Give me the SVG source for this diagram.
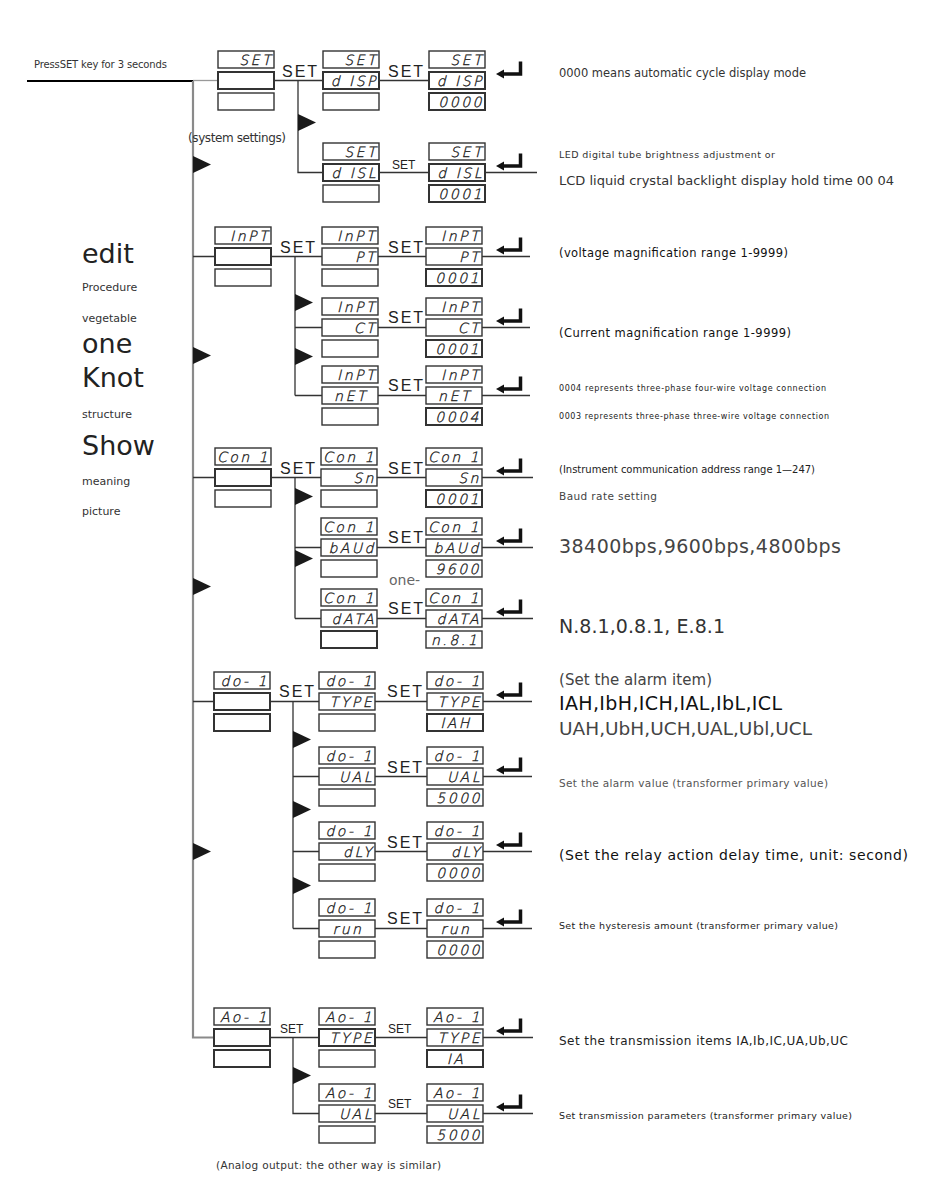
<svg xmlns="http://www.w3.org/2000/svg" width="926" height="1184" viewBox="0 0 926 1184">
<style>
.box{fill:#fff;stroke:#333;stroke-width:1.4}
.thk{stroke-width:2}
.seg{font-family:"DejaVu Sans ExtraLight","DejaVu Sans Light","DejaVu Sans",sans-serif;font-weight:200;font-style:italic;font-size:14px;fill:#222;stroke:#222;stroke-width:0.35;letter-spacing:2.5px;text-anchor:end}
.segc{text-anchor:middle}
.c{stroke:#333;stroke-width:1.3;fill:none}
.trunk{stroke:#8a8a8a;stroke-width:2.2;fill:none}
.set{font-family:"Liberation Sans",Arial,sans-serif;font-size:16px;letter-spacing:2px;fill:#222}
.sets{font-size:12px;letter-spacing:0}
.t{font-family:"DejaVu Sans",sans-serif;fill:#333}
.big{font-size:27px;fill:#222}
.sm{font-size:11px;fill:#333}
</style>
<defs>
<polygon id="tri" points="0,0 18,8.5 0,17" fill="#1a1a1a"/>
<g id="ent"><path d="M24.5,0 V12.5 H7" stroke="#111" stroke-width="3.5" fill="none"/><polygon points="0,12.5 8,8 8,17" fill="#111"/></g>
</defs>
<rect width="926" height="1184" fill="#fff"/>

<g id="connectors">
<path d="M27,81 H193" stroke="#000" stroke-width="2.2" fill="none"/>
<path class="trunk" d="M193,81 V1037.5 H214"/>
<path d="M193,80.5 H218" stroke="#999" stroke-width="1.3" fill="none"/>
<path class="c" d="M274,80.5 H323 M298,80.5 V172.5 H323 M379,80.5 H429 M379,172.5 H429 M485,172.5 H537"/>
<path class="c" d="M193,256.5 H215 M271,256.5 H322 M295,256.5 V395.5 M295,327.5 H322 M295,395.5 H322 M378,256.5 H426 M378,327.5 H426 M378,395.5 H426 M482,256.5 H530 M482,327.5 H530 M482,395.5 H530"/>
<path class="c" d="M193,477.5 H215 M271,477.5 H321 M295,477.5 V618.5 M295,547.5 H321 M295,618.5 H321 M377,477.5 H426 M377,547.5 H426 M377,618.5 H426 M482,477.5 H533 M482,547.5 H533 M482,618.5 H533"/>
<path class="c" d="M193,701.5 H214 M270,701.5 H319 M293,701.5 V928.5 M293,776.5 H319 M293,851.5 H319 M293,928.5 H319 M375,701.5 H427 M375,776.5 H427 M375,851.5 H427 M375,928.5 H427 M483,701.5 H532 M483,776.5 H532 M483,851.5 H532 M483,928.5 H532"/>
<path class="c" d="M270,1037.5 H319 M293,1037.5 V1113.5 H319 M375,1037.5 H427 M375,1113.5 H427 M483,1037.5 H533 M483,1113.5 H533"/>
<use href="#tri" x="193" y="156"/>
<use href="#tri" x="193" y="347"/>
<use href="#tri" x="193" y="578"/>
<use href="#tri" x="193" y="843"/>
<use href="#tri" x="298" y="114"/>
<use href="#tri" x="295" y="294"/>
<use href="#tri" x="295" y="348"/>
<use href="#tri" x="295" y="488"/>
<use href="#tri" x="295" y="550"/>
<use href="#tri" x="293" y="731"/>
<use href="#tri" x="293" y="801"/>
<use href="#tri" x="293" y="877"/>
<use href="#tri" x="293" y="1067"/>
<use href="#ent" x="496" y="61.5"/>
<use href="#ent" x="496" y="153.5"/>
<use href="#ent" x="496" y="237.5"/>
<use href="#ent" x="496" y="308.5"/>
<use href="#ent" x="496" y="376.5"/>
<use href="#ent" x="496" y="458.5"/>
<use href="#ent" x="496" y="528.5"/>
<use href="#ent" x="496" y="599.5"/>
<use href="#ent" x="496" y="682.5"/>
<use href="#ent" x="496" y="757.5"/>
<use href="#ent" x="496" y="832.5"/>
<use href="#ent" x="496" y="909.5"/>
<use href="#ent" x="496" y="1018.5"/>
<use href="#ent" x="496" y="1094.5"/>
<text class="set" x="282" y="77">SET</text>
<text class="set" x="388" y="77">SET</text>
<text class="set sets" x="392" y="169">SET</text>
<text class="set" x="280" y="253">SET</text>
<text class="set" x="388" y="253">SET</text>
<text class="set" x="388" y="323">SET</text>
<text class="set" x="388" y="391">SET</text>
<text class="set" x="280" y="474">SET</text>
<text class="set" x="388" y="474">SET</text>
<text class="set" x="388" y="543">SET</text>
<text class="set" x="388" y="614">SET</text>
<text class="set" x="279" y="697">SET</text>
<text class="set" x="387" y="697">SET</text>
<text class="set" x="387" y="773">SET</text>
<text class="set" x="387" y="848">SET</text>
<text class="set" x="387" y="924">SET</text>
<text class="set sets" x="280" y="1033">SET</text>
<text class="set sets" x="388" y="1033">SET</text>
<text class="set sets" x="388" y="1108">SET</text>
<text class="t" x="389" y="585" font-size="14" style="fill:#666">one-</text>
</g>

<g id="n-set"><rect class="box" x="218" y="51" width="56" height="17"/><rect class="box thk" x="218" y="72" width="56" height="17"/><rect class="box" x="218" y="93" width="56" height="17"/><text class="seg" x="273" y="65">SET</text></g>
<g id="n-disp"><rect class="box" x="323" y="51" width="56" height="17"/><rect class="box thk" x="323" y="72" width="56" height="17"/><rect class="box" x="323" y="93" width="56" height="17"/><text class="seg" x="378" y="65">SET</text><text class="seg" x="378" y="86">d ISP</text></g>
<g id="n-disp-v"><rect class="box" x="429" y="51" width="56" height="17"/><rect class="box thk" x="429" y="72" width="56" height="17"/><rect class="box thk" x="429" y="93" width="56" height="17"/><text class="seg" x="484" y="65">SET</text><text class="seg" x="484" y="86">d ISP</text><text class="seg" x="484" y="107">0000</text></g>
<g id="n-disl"><rect class="box" x="323" y="143" width="56" height="17"/><rect class="box thk" x="323" y="164" width="56" height="17"/><rect class="box" x="323" y="185" width="56" height="17"/><text class="seg" x="378" y="157">SET</text><text class="seg" x="378" y="178">d ISL</text></g>
<g id="n-disl-v"><rect class="box" x="429" y="143" width="56" height="17"/><rect class="box thk" x="429" y="164" width="56" height="17"/><rect class="box thk" x="429" y="185" width="56" height="17"/><text class="seg" x="484" y="157">SET</text><text class="seg" x="484" y="178">d ISL</text><text class="seg" x="484" y="199">0001</text></g>

<g id="n-inpt"><rect class="box" x="215" y="227" width="56" height="17"/><rect class="box thk" x="215" y="248" width="56" height="17"/><rect class="box" x="215" y="269" width="56" height="17"/><text class="seg" x="270" y="241">InPT</text></g>
<g id="n-pt"><rect class="box" x="322" y="227" width="56" height="17"/><rect class="box" x="322" y="248" width="56" height="17"/><rect class="box" x="322" y="269" width="56" height="17"/><text class="seg" x="377" y="241">InPT</text><text class="seg" x="377" y="262">PT</text></g>
<g id="n-pt-v"><rect class="box" x="426" y="227" width="56" height="17"/><rect class="box" x="426" y="248" width="56" height="17"/><rect class="box thk" x="426" y="269" width="56" height="17"/><text class="seg" x="481" y="241">InPT</text><text class="seg" x="481" y="262">PT</text><text class="seg" x="481" y="283">0001</text></g>
<g id="n-ct"><rect class="box" x="322" y="298" width="56" height="17"/><rect class="box" x="322" y="319" width="56" height="17"/><rect class="box" x="322" y="340" width="56" height="17"/><text class="seg" x="377" y="312">InPT</text><text class="seg" x="377" y="333">CT</text></g>
<g id="n-ct-v"><rect class="box" x="426" y="298" width="56" height="17"/><rect class="box" x="426" y="319" width="56" height="17"/><rect class="box thk" x="426" y="340" width="56" height="17"/><text class="seg" x="481" y="312">InPT</text><text class="seg" x="481" y="333">CT</text><text class="seg" x="481" y="354">0001</text></g>
<g id="n-net"><rect class="box" x="322" y="366" width="56" height="17"/><rect class="box" x="322" y="387" width="56" height="17"/><rect class="box" x="322" y="408" width="56" height="17"/><text class="seg" x="377" y="380">InPT</text><text class="seg segc" x="351" y="401">nET</text></g>
<g id="n-net-v"><rect class="box" x="426" y="366" width="56" height="17"/><rect class="box" x="426" y="387" width="56" height="17"/><rect class="box thk" x="426" y="408" width="56" height="17"/><text class="seg" x="481" y="380">InPT</text><text class="seg segc" x="455" y="401">nET</text><text class="seg" x="481" y="422">0004</text></g>

<g id="n-con"><rect class="box" x="215" y="448" width="56" height="17"/><rect class="box thk" x="215" y="469" width="56" height="17"/><rect class="box" x="215" y="490" width="56" height="17"/><text class="seg" x="270" y="462">Con 1</text></g>
<g id="n-sn"><rect class="box" x="321" y="448" width="56" height="17"/><rect class="box" x="321" y="469" width="56" height="17"/><rect class="box" x="321" y="490" width="56" height="17"/><text class="seg" x="376" y="462">Con 1</text><text class="seg" x="376" y="483">Sn</text></g>
<g id="n-sn-v"><rect class="box" x="426" y="448" width="56" height="17"/><rect class="box" x="426" y="469" width="56" height="17"/><rect class="box thk" x="426" y="490" width="56" height="17"/><text class="seg" x="481" y="462">Con 1</text><text class="seg" x="481" y="483">Sn</text><text class="seg" x="481" y="504">0001</text></g>
<g id="n-baud"><rect class="box" x="321" y="518" width="56" height="17"/><rect class="box" x="321" y="539" width="56" height="17"/><rect class="box" x="321" y="560" width="56" height="17"/><text class="seg" x="376" y="532">Con 1</text><text class="seg" x="376" y="553">bAUd</text></g>
<g id="n-baud-v"><rect class="box" x="426" y="518" width="56" height="17"/><rect class="box" x="426" y="539" width="56" height="17"/><rect class="box" x="426" y="560" width="56" height="17"/><text class="seg" x="481" y="532">Con 1</text><text class="seg" x="481" y="553">bAUd</text><text class="seg" x="481" y="574">9600</text></g>
<g id="n-data"><rect class="box" x="321" y="589" width="56" height="17"/><rect class="box" x="321" y="610" width="56" height="17"/><rect class="box thk" x="321" y="631" width="56" height="17"/><text class="seg" x="376" y="603">Con 1</text><text class="seg" x="376" y="624">dATA</text></g>
<g id="n-data-v"><rect class="box" x="426" y="589" width="56" height="17"/><rect class="box" x="426" y="610" width="56" height="17"/><rect class="box" x="426" y="631" width="56" height="17"/><text class="seg" x="481" y="603">Con 1</text><text class="seg" x="481" y="624">dATA</text><text class="seg segc" x="455" y="645">n.8.1</text></g>

<g id="n-do"><rect class="box" x="214" y="672" width="56" height="17"/><rect class="box thk" x="214" y="693" width="56" height="17"/><rect class="box thk" x="214" y="714" width="56" height="17"/><text class="seg" x="269" y="686">do- 1</text></g>
<g id="n-type"><rect class="box" x="319" y="672" width="56" height="17"/><rect class="box" x="319" y="693" width="56" height="17"/><rect class="box" x="319" y="714" width="56" height="17"/><text class="seg" x="374" y="686">do- 1</text><text class="seg" x="374" y="707">TYPE</text></g>
<g id="n-type-v"><rect class="box" x="427" y="672" width="56" height="17"/><rect class="box" x="427" y="693" width="56" height="17"/><rect class="box thk" x="427" y="714" width="56" height="17"/><text class="seg" x="482" y="686">do- 1</text><text class="seg" x="482" y="707">TYPE</text><text class="seg segc" x="456" y="728">IAH</text></g>
<g id="n-val"><rect class="box" x="319" y="747" width="56" height="17"/><rect class="box" x="319" y="768" width="56" height="17"/><rect class="box" x="319" y="789" width="56" height="17"/><text class="seg" x="374" y="761">do- 1</text><text class="seg" x="374" y="782">UAL</text></g>
<g id="n-val-v"><rect class="box" x="427" y="747" width="56" height="17"/><rect class="box" x="427" y="768" width="56" height="17"/><rect class="box" x="427" y="789" width="56" height="17"/><text class="seg" x="482" y="761">do- 1</text><text class="seg" x="482" y="782">UAL</text><text class="seg" x="482" y="803">5000</text></g>
<g id="n-dly"><rect class="box" x="319" y="822" width="56" height="17"/><rect class="box" x="319" y="843" width="56" height="17"/><rect class="box" x="319" y="864" width="56" height="17"/><text class="seg" x="374" y="836">do- 1</text><text class="seg" x="374" y="857">dLY</text></g>
<g id="n-dly-v"><rect class="box" x="427" y="822" width="56" height="17"/><rect class="box" x="427" y="843" width="56" height="17"/><rect class="box" x="427" y="864" width="56" height="17"/><text class="seg" x="482" y="836">do- 1</text><text class="seg" x="482" y="857">dLY</text><text class="seg" x="482" y="878">0000</text></g>
<g id="n-run"><rect class="box" x="319" y="899" width="56" height="17"/><rect class="box" x="319" y="920" width="56" height="17"/><rect class="box" x="319" y="941" width="56" height="17"/><text class="seg" x="374" y="913">do- 1</text><text class="seg segc" x="348" y="934">run</text></g>
<g id="n-run-v"><rect class="box" x="427" y="899" width="56" height="17"/><rect class="box" x="427" y="920" width="56" height="17"/><rect class="box" x="427" y="941" width="56" height="17"/><text class="seg" x="482" y="913">do- 1</text><text class="seg segc" x="456" y="934">run</text><text class="seg" x="482" y="955">0000</text></g>

<g id="n-ao"><rect class="box" x="214" y="1008" width="56" height="17"/><rect class="box thk" x="214" y="1029" width="56" height="17"/><rect class="box thk" x="214" y="1050" width="56" height="17"/><text class="seg" x="269" y="1022">Ao- 1</text></g>
<g id="n-aotype"><rect class="box" x="319" y="1008" width="56" height="17"/><rect class="box thk" x="319" y="1029" width="56" height="17"/><rect class="box" x="319" y="1050" width="56" height="17"/><text class="seg" x="374" y="1022">Ao- 1</text><text class="seg" x="374" y="1043">TYPE</text></g>
<g id="n-aotype-v"><rect class="box" x="427" y="1008" width="56" height="17"/><rect class="box" x="427" y="1029" width="56" height="17"/><rect class="box thk" x="427" y="1050" width="56" height="17"/><text class="seg" x="482" y="1022">Ao- 1</text><text class="seg" x="482" y="1043">TYPE</text><text class="seg segc" x="456" y="1064">IA</text></g>
<g id="n-aoval"><rect class="box" x="319" y="1084" width="56" height="17"/><rect class="box" x="319" y="1105" width="56" height="17"/><rect class="box" x="319" y="1126" width="56" height="17"/><text class="seg" x="374" y="1098">Ao- 1</text><text class="seg" x="374" y="1119">UAL</text></g>
<g id="n-aoval-v"><rect class="box" x="427" y="1084" width="56" height="17"/><rect class="box" x="427" y="1105" width="56" height="17"/><rect class="box" x="427" y="1126" width="56" height="17"/><text class="seg" x="482" y="1098">Ao- 1</text><text class="seg" x="482" y="1119">UAL</text><text class="seg" x="482" y="1140">5000</text></g>

<g id="labels">
<text class="t" x="34" y="68" font-size="10" textLength="133">PressSET key for 3 seconds</text>
<text class="t" x="188" y="142" font-size="12" letter-spacing="-0.4">(system settings)</text>
<text class="t big" x="82" y="263">edit</text>
<text class="t sm" x="82" y="291">Procedure</text>
<text class="t sm" x="82" y="322">vegetable</text>
<text class="t big" x="82" y="353">one</text>
<text class="t big" x="82" y="387">Knot</text>
<text class="t sm" x="82" y="418">structure</text>
<text class="t big" x="82" y="455">Show</text>
<text class="t sm" x="82" y="485">meaning</text>
<text class="t sm" x="82" y="515">picture</text>

<text class="t" x="559" y="77" font-size="11.5" textLength="247">0000 means automatic cycle display mode</text>
<text class="t" x="559" y="158" font-size="9.5" textLength="216">LED digital tube brightness adjustment or</text>
<text class="t" x="559" y="185" font-size="13" textLength="335">LCD liquid crystal backlight display hold time 00 04</text>
<text class="t" x="559" y="257" font-size="11.5" textLength="229" style="fill:#111">(voltage magnification range 1-9999)</text>
<text class="t" x="559" y="337" font-size="11.5" textLength="232" style="fill:#111">(Current magnification range 1-9999)</text>
<text class="t" x="559" y="391" font-size="8" textLength="267" style="fill:#222">0004 represents three-phase four-wire voltage connection</text>
<text class="t" x="559" y="419" font-size="8" textLength="270" style="fill:#222">0003 represents three-phase three-wire voltage connection</text>
<text class="t" x="559" y="473" font-size="10" textLength="256" style="fill:#222">(Instrument communication address range 1—247)</text>
<text class="t" x="559" y="500" font-size="10.5" textLength="98" style="fill:#444">Baud rate setting</text>
<text class="t" x="559" y="553" font-size="19" textLength="282" style="fill:#444">38400bps,9600bps,4800bps</text>
<text class="t" x="559" y="633" font-size="19" textLength="166" style="fill:#333">N.8.1,0.8.1, E.8.1</text>
<text class="t" x="559" y="685" font-size="15" textLength="153" style="fill:#444">(Set the alarm item)</text>
<text class="t" x="559" y="710" font-size="19" textLength="223" style="fill:#111">IAH,IbH,ICH,IAL,IbL,ICL</text>
<text class="t" x="559" y="735" font-size="18.5" textLength="253" style="fill:#444">UAH,UbH,UCH,UAL,Ubl,UCL</text>
<text class="t" x="559" y="787" font-size="10.5" textLength="269" style="fill:#555">Set the alarm value (transformer primary value)</text>
<text class="t" x="559" y="860" font-size="14" textLength="349" style="fill:#111">(Set the relay action delay time, unit: second)</text>
<text class="t" x="559" y="929" font-size="9.5" textLength="279" style="fill:#222">Set the hysteresis amount (transformer primary value)</text>
<text class="t" x="559" y="1045" font-size="12" textLength="289" style="fill:#222">Set the transmission items IA,Ib,IC,UA,Ub,UC</text>
<text class="t" x="559" y="1119" font-size="9.5" textLength="293" style="fill:#222">Set transmission parameters (transformer primary value)</text>
<text class="t" x="216" y="1169" font-size="10.5" textLength="225" style="fill:#333">(Analog output: the other way is similar)</text>
</g>
</svg>
